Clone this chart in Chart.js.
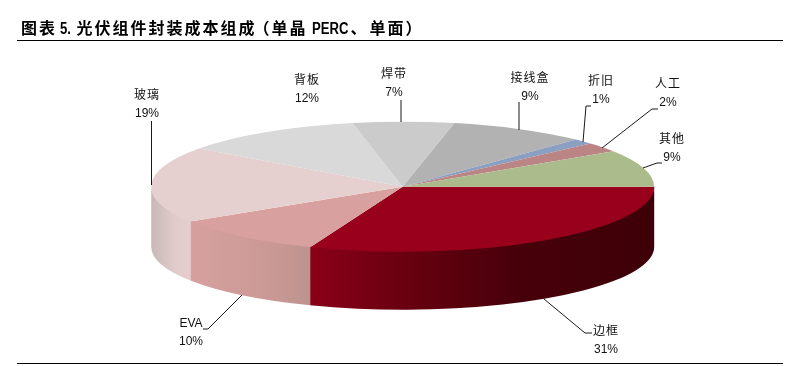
<!DOCTYPE html>
<html lang="zh">
<head>
<meta charset="utf-8">
<title>光伏组件封装成本组成</title>
<style>
  html, body { margin: 0; padding: 0; background: #fff; }
  #wrap { position: relative; width: 803px; height: 366px; overflow: hidden; }
  #pie { position: absolute; left: 0; top: 0; }
  #title {
    position: absolute; left: 21px; top: 15px; white-space: nowrap; color: #000;
    font: bold 16px "Noto Sans CJK SC", sans-serif; letter-spacing: 2px;
  }
  #title b {
    display: inline-block; font: bold 16px "Liberation Sans", sans-serif; letter-spacing: 0;
    transform: scaleX(.82); transform-origin: left;
  }
  .rule { position: absolute; left: 17px; width: 766px; height: 1px; background: #000; }
</style>
</head>
<body>
<div id="wrap">
  <canvas id="pie" width="803" height="366"></canvas>
  <div id="title">图表<b style="margin-left:3px;width:11.5px">5.</b><span style="margin-left:5px">光伏组件封装成本组成</span><span style="margin-left:-3px">（单晶</span><b style="margin-left:4px;width:38px">PERC</b><span style="margin-left:1px">、</span><span style="margin-left:1px">单面）</span></div>
  <div class="rule" style="top:40px"></div>
  <div class="rule" style="top:363px"></div>
</div>
<script src="https://cdn.jsdelivr.net/npm/chart.js@4/dist/chart.umd.min.js"></script>
<script>
// Data, clockwise from 3 o'clock
const categories = ['边框', 'EVA', '玻璃', '背板', '焊带', '接线盒', '折旧', '人工', '其他'];
const shares = [31, 10, 19, 11.8, 6.5, 8.8, 1.3, 2.4, 9.2];
const topColors = ['#98001c', '#d8a09f', '#e5d0cf', '#d9d9d9', '#cbcbcb', '#b2b2b2', '#8a9fc1', '#bb8585', '#abbb8b'];

// Only the three front slices show a side wall: [colour stop, colour]
const sideStops = {
  0: [[0, '#8a0018'], [0.3, '#66000f'], [0.6, '#47000a'], [1, '#3e0008']],
  1: [[0, '#d6a09f'], [0.6, '#cc9a96'], [1, '#bd938f']],
  2: [[0, '#c8b8b8'], [0.6, '#e0cbca'], [1, '#e4cfce']]
};

// Projected pie
const CX = 402.7, CY = 186.7, RX = 251.5, RY = 65, BOTTOM_RY = 63, DEPTH = 60;

// Callouts: text centre, leader polyline
const callouts = [
  { x: 606, y: 332, line: [[592, 333], [585, 333], [544, 299]] },
  { x: 191, y: 324, line: [[203, 329], [208, 329], [242, 295]] },
  { x: 147, y: 96, line: [[151.5, 121], [151.5, 185]] },
  { x: 307, y: 81, line: [] },
  { x: 394, y: 75, line: [[401, 100], [401, 122]] },
  { x: 530, y: 79, line: [[519, 102], [519, 130]] },
  { x: 601, y: 82, line: [[591, 106], [586, 106], [583, 142]] },
  { x: 668, y: 85, line: [[658, 109], [652, 109], [602, 148]] },
  { x: 672, y: 140, line: [[662, 163], [657, 163], [643, 168]] }
];

const pie3d = {
  id: 'pie3d',
  beforeDatasetDraw(chart) {
    const ctx = chart.ctx;
    const arcs = chart.getDatasetMeta(0).data;

    // side walls, tucked 1px under the top face so no seam shows
    arcs.forEach((arc, i) => {
      if (!sideStops[i]) return;
      const a0 = Math.max(arc.startAngle, 0);
      const a1 = Math.min(arc.endAngle, Math.PI);
      const x0 = CX + RX * Math.cos(a0);
      const x1 = CX + RX * Math.cos(a1);
      const grad = ctx.createLinearGradient(Math.min(x0, x1), 0, Math.max(x0, x1), 0);
      sideStops[i].forEach(s => grad.addColorStop(s[0], s[1]));
      ctx.beginPath();
      ctx.ellipse(CX, CY - 1, RX, RY, 0, a0, a1);
      ctx.ellipse(CX, CY + DEPTH, RX, BOTTOM_RY, 0, a1, a0, true);
      ctx.closePath();
      ctx.fillStyle = grad;
      ctx.fill();
    });

    // squash the flat pie into the top ellipse
    const el = arcs[0];
    ctx.save();
    ctx.translate(CX, CY);
    ctx.scale(RX / el.outerRadius, RY / el.outerRadius);
    ctx.translate(-el.x, -el.y);
  },
  afterDatasetDraw(chart) {
    const ctx = chart.ctx;
    ctx.restore();

    callouts.forEach((c, i) => {
      if (c.line.length) {
        ctx.beginPath();
        c.line.forEach((p, j) => (j ? ctx.lineTo(p[0], p[1]) : ctx.moveTo(p[0], p[1])));
        ctx.strokeStyle = '#1a1a1a';
        ctx.lineWidth = 1;
        ctx.stroke();
      }
      ctx.fillStyle = '#111';
      ctx.textAlign = 'center';
      ctx.textBaseline = 'middle';
      ctx.font = '12px "Liberation Sans", "Noto Sans CJK SC", sans-serif';
      ctx.letterSpacing = /[A-Z]/.test(categories[i]) ? '0px' : '1px';
      ctx.fillText(categories[i], c.x, c.y);
      ctx.letterSpacing = '0px';
      ctx.fillText(Math.round(shares[i]) + '%', c.x, c.y + 17.5);
    });
  }
};

new Chart(document.getElementById('pie'), {
  type: 'pie',
  data: {
    labels: categories,
    datasets: [{ data: shares, backgroundColor: topColors, borderWidth: 0 }]
  },
  options: {
    responsive: false,
    animation: false,
    rotation: 90,
    plugins: { legend: { display: false }, tooltip: { enabled: false } }
  },
  plugins: [pie3d]
});
</script>
</body>
</html>
